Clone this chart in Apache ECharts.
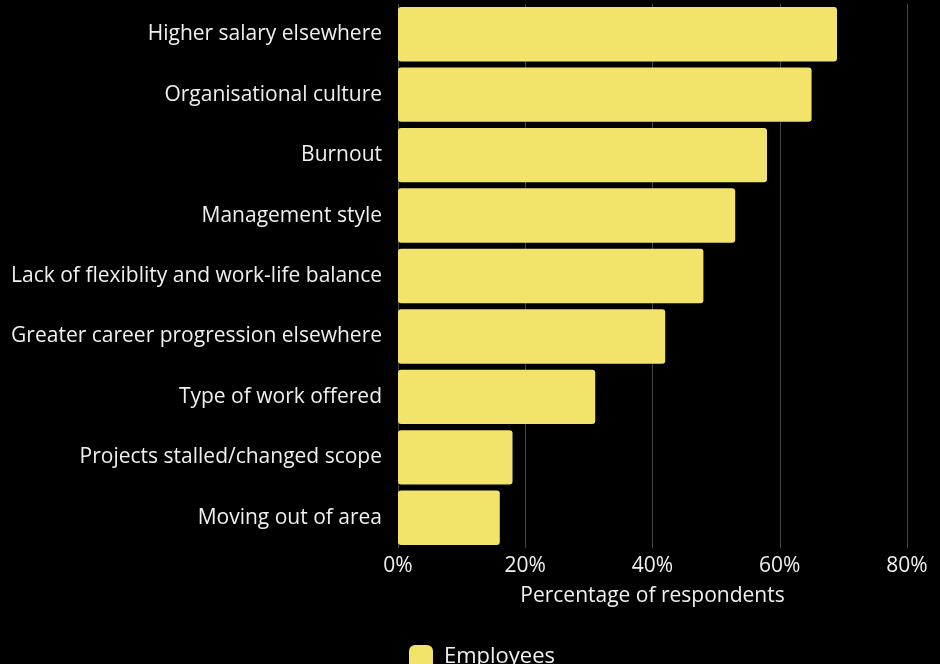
<!DOCTYPE html>
<html><head><meta charset="utf-8">
<script src="https://cdn.jsdelivr.net/npm/echarts@6/dist/echarts.min.js"></script>
<style>html,body{margin:0;padding:0;background:#000;}#c{width:940px;height:664px;}</style>
</head><body><div id="c"></div>
<script>
const categories = ["Higher salary elsewhere","Organisational culture","Burnout","Management style","Lack of flexiblity and work-life balance","Greater career progression elsewhere","Type of work offered","Projects stalled/changed scope","Moving out of area"];
const employees = [69, 65, 58, 53, 48, 42, 31, 18, 16];
const seriesName = "Employees";
const axisTitle = "Percentage of respondents";
const font = "Open Sans";
const chart = echarts.init(document.getElementById('c'));
chart.setOption({
  backgroundColor: '#000',
  animation: false,
  textStyle: {fontFamily: font},
  grid: {left: 398, right: 33, top: 4, bottom: 116, containLabel: false},
  legend: {top: 640, left: 404, itemWidth: 24, itemHeight: 24, itemGap: 10, icon: 'roundRect',
    textStyle: {color: '#f0f0f0', fontSize: 22, fontFamily: font, padding: [0, 0, 0, 6]}, data: [seriesName]},
  xAxis: {type: 'value', min: 0, max: 80, interval: 20,
    axisLabel: {formatter: '{value}%', color: '#f0f0f0', fontSize: 21, margin: 8},
    splitLine: {show: true, lineStyle: {color: '#444', width: 1}},
    axisLine: {show: false}, axisTick: {show: false},
    name: axisTitle, nameLocation: 'middle', nameGap: 38,
    nameTextStyle: {color: '#f0f0f0', fontSize: 21}},
  yAxis: {type: 'category', data: categories, inverse: true,
    axisLabel: {color: '#f0f0f0', fontSize: 21, margin: 16},
    axisLine: {show: false}, axisTick: {show: false}},
  series: [{name: seriesName, type: 'bar', data: employees, barCategoryGap: '10%',
    itemStyle: {color: '#F2E46B', borderRadius: 3}}]
});
</script></body></html>
